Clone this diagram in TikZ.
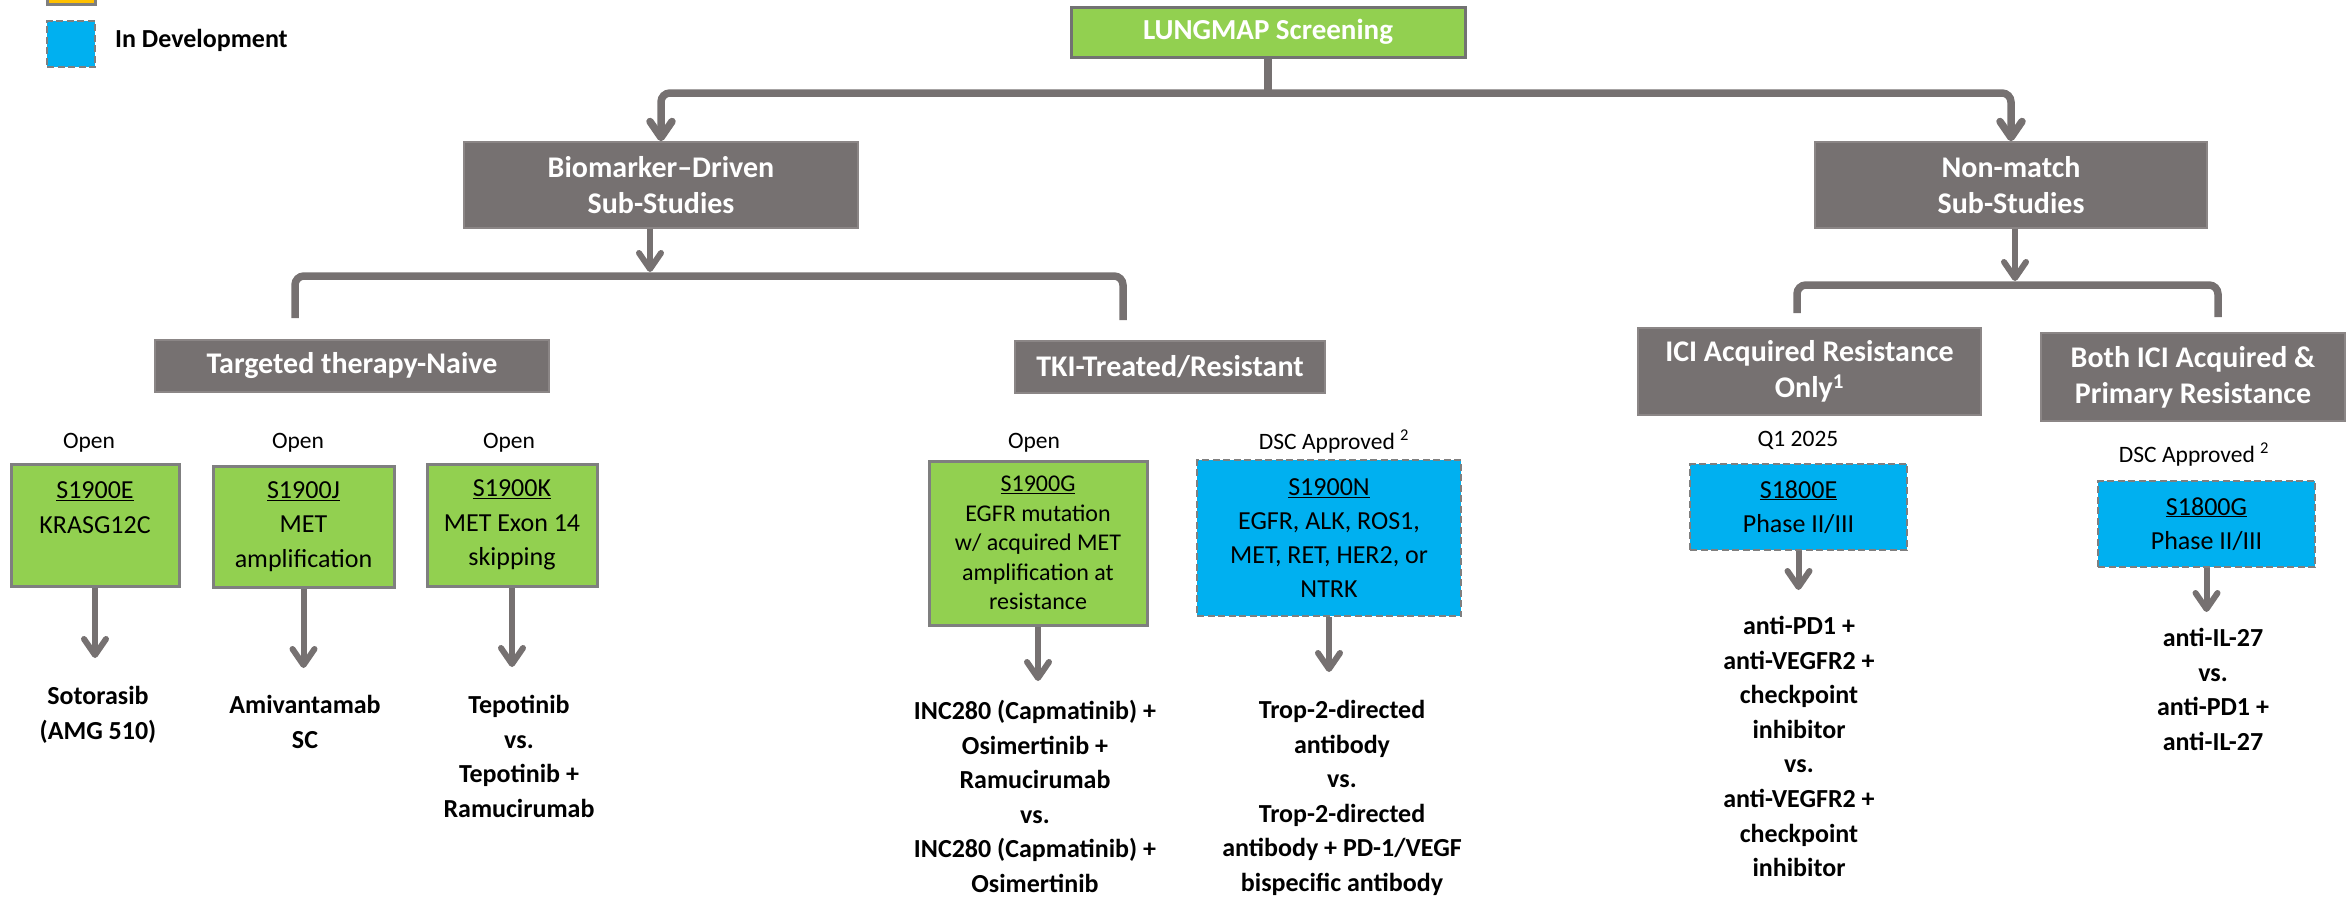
\documentclass[tikz,border=0pt]{standalone}
\usepackage{fontspec}
\setmainfont{Carlito}
\usetikzlibrary{arrows.meta}
\definecolor{boxgray}{HTML}{767171}
\definecolor{edgegray}{HTML}{7F7F7F}
\definecolor{limegreen}{HTML}{92D050}
\definecolor{skyblue}{HTML}{00B0F0}
\definecolor{amber}{HTML}{FFC000}

\begin{document}
\begin{tikzpicture}[x=1pt,y=-1pt,>={Straight Barb[length=16pt,width=22pt,round]},
  hdrbox/.style={fill=boxgray,draw=boxgray!85!white,line width=1.5pt,text=white,font=\bfseries\fontsize{30}{36}\selectfont,align=center,inner sep=0pt},
  openbox/.style={fill=limegreen,draw=edgegray,line width=3pt,font=\fontsize{26}{34.6}\selectfont,align=center,inner sep=0pt},
  devbox/.style={fill=skyblue,draw=edgegray,line width=2.5pt,dash pattern=on 7pt off 3.5pt,font=\fontsize{26}{34.6}\selectfont,align=center,inner sep=0pt},
  wire/.style={draw=boxgray,line width=6pt},
  trunkline/.style={draw=boxgray,line width=7.5pt,rounded corners=9pt},
  statuslbl/.style={font=\fontsize{23.5}{28}\selectfont,inner sep=0pt},
  regimen/.style={font=\bfseries\fontsize{26}{34.6}\selectfont,align=center,anchor=north,inner sep=0pt}]
\useasboundingbox (0,0) rectangle (2351,898);

\begin{scope}
\clip (0,0) rectangle (2351,898);
\node[openbox,fill=amber,minimum width=48,minimum height=46] (keyopen) at (71,-19) {};
\end{scope}
\node[devbox,minimum width=48,minimum height=46] (keydev) at (71,44) {};
\node[anchor=west,font=\bfseries\fontsize{26}{30}\selectfont,inner sep=0pt] (keydevlbl) at (115,40) {In Development};

\node[hdrbox,fill=limegreen,draw=edgegray!90!black,line width=3pt,font=\bfseries\fontsize{29}{34}\selectfont,minimum width=394,minimum height=50] (screen) at (1268,32) {LUNGMAP Screening};
\node[hdrbox,minimum width=394,minimum height=86] (biomarker) at (661,185) {Biomarker–Driven\\Sub-Studies};
\node[hdrbox,minimum width=392,minimum height=86] (nonmatch) at (2011,185) {Non-match\\Sub-Studies};
\node[hdrbox,minimum width=394,minimum height=52] (naive) at (352,366) {Targeted therapy-Naive};
\node[hdrbox,minimum width=310,minimum height=52] (tki) at (1170,367) {TKI-Treated/Resistant};
\node[hdrbox,minimum width=343,minimum height=87] (iciacq) at (1809.5,371.5) {ICI Acquired Resistance\\Only\textsuperscript{1}};
\node[hdrbox,minimum width=304,minimum height=88] (iciboth) at (2193,377) {Both ICI Acquired \&\\Primary Resistance};

\coordinate (hub1) at (1268,93);
\draw[trunkline] (screen.south) -- (hub1);
\draw[trunkline,->] (hub1) -| (biomarker.north);
\draw[trunkline,->] (hub1) -| (nonmatch.north);

\coordinate (hub2) at (650,276);
\coordinate (naivedrop) at (295,318);
\coordinate (tkidrop) at (1123,320);
\draw[trunkline] (naivedrop) |- (hub2) -| (tkidrop);
\draw[wire,->,shorten >=4pt] (biomarker.south -| hub2) -- (hub2);

\coordinate (hub3) at (2015,285);
\coordinate (iciacqdrop) at (1797,313);
\coordinate (icibothdrop) at (2218,317);
\draw[trunkline] (iciacqdrop) |- (hub3) -| (icibothdrop);
\draw[wire,->,shorten >=4pt] (nonmatch.south -| hub3) -- (hub3);

\foreach \nm/\px in {opene/89,openj/298,openk/509,openg/1034}
  \node[statuslbl] (\nm) at (\px,443) {Open};
\node[statuslbl] (dscn) at (1334,442) {DSC Approved \textsuperscript{2}};
\node[statuslbl] (qone) at (1798,440) {Q1 2025};
\node[statuslbl] (dscg) at (2194,455) {DSC Approved \textsuperscript{2}};

\node[openbox,minimum width=168,minimum height=122] (s1900e) at (95,525) {\underline{S1900E}\\KRASG12C\\\mbox{}};
\node[openbox,minimum width=181,minimum height=121] (s1900j) at (303.5,526.5) {\underline{S1900J}\\MET\\amplification};
\node[openbox,minimum width=170,minimum height=122] (s1900k) at (512,525) {\underline{S1900K}\\MET Exon 14\\skipping};
\node[openbox,font=\fontsize{24}{29.5}\selectfont,minimum width=218,minimum height=164] (s1900g) at (1038,543) {\underline{S1900G}\\EGFR mutation\\w/ acquired MET\\amplification at\\resistance};
\node[devbox,font=\fontsize{26}{34}\selectfont,minimum width=264,minimum height=156] (s1900n) at (1329,538) {\underline{S1900N}\\EGFR, ALK, ROS1,\\MET, RET, HER2, or\\NTRK};
\node[devbox,minimum width=217,minimum height=86] (s1800e) at (1798.5,507) {\underline{S1800E}\\Phase II/III};
\node[devbox,minimum width=217,minimum height=86] (s1800g) at (2206.5,524) {\underline{S1800G}\\Phase II/III};

\node[regimen] (sotorasib) at (98,686) {Sotorasib\\(AMG 510)};
\node[regimen] (amivantamab) at (305,695) {Amivantamab\\SC};
\node[regimen] (tepotinib) at (519,695) {Tepotinib\\vs.\\Tepotinib +\\Ramucirumab};
\node[regimen] (capmatinib) at (1035,700) {INC280 (Capmatinib) +\\Osimertinib +\\Ramucirumab\\vs.\\INC280 (Capmatinib) +\\Osimertinib};
\node[regimen] (trop) at (1342,700) {Trop-2-directed\\antibody\\vs.\\Trop-2-directed\\antibody + PD-1/VEGF\\bispecific antibody};
\node[regimen] (antipd) at (1799,616) {anti-PD1 +\\anti-VEGFR2 +\\checkpoint\\inhibitor\\vs.\\anti-VEGFR2 +\\checkpoint\\inhibitor};
\node[regimen] (antiil) at (2213,628) {anti-IL-27\\vs.\\anti-PD1 +\\anti-IL-27};

\foreach \src/\dst/\gap in {s1900e/sotorasib/28pt,s1900j/amivantamab/27pt,s1900k/tepotinib/28pt,s1900g/capmatinib/19pt,s1900n/trop/28pt,s1800e/antipd/26pt,s1800g/antiil/16pt}
  \draw[wire,->,shorten >=\gap] (\src.south) -- (\src.south |- \dst.north);
\end{tikzpicture}
\end{document}
